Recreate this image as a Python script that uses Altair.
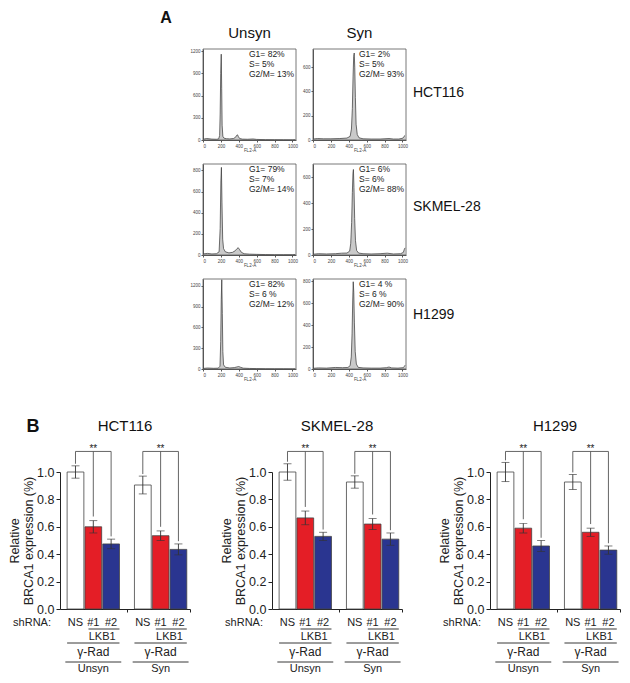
import altair as alt
import pandas as pd

FONT = "Liberation Sans"

# ---------------- Panel A: DNA-content histograms (FL2-A vs events) ----------------
cell_lines = ["HCT116", "SKMEL-28", "H1299"]
conditions = ["Unsyn", "Syn"]

fl2_hct_unsyn = [0, 40, 100, 150, 175, 186, 192, 198, 204, 209, 214, 222, 234, 260, 300, 340, 362, 376, 386, 396, 410, 440, 500, 560, 600, 700, 800, 900, 1000, 1030]
cnt_hct_unsyn = [10, 20, 12, 10, 14, 60, 350, 900, 1160, 700, 200, 50, 25, 18, 15, 20, 35, 62, 70, 45, 20, 12, 10, 14, 8, 5, 4, 3, 2, 4]
fl2_hct_syn = [0, 50, 120, 200, 300, 380, 415, 430, 440, 448, 455, 461, 467, 474, 482, 495, 515, 560, 650, 750, 850, 900, 960, 1005, 1018, 1030]
cnt_hct_syn = [8, 12, 10, 10, 12, 16, 30, 90, 260, 520, 690, 717, 600, 350, 130, 45, 18, 10, 8, 8, 12, 8, 8, 15, 30, 38]

fl2_sk_unsyn = [0, 50, 100, 150, 180, 192, 200, 206, 212, 220, 230, 250, 290, 330, 360, 380, 394, 410, 430, 460, 520, 600, 700, 800, 900, 1000, 1030]
cnt_sk_unsyn = [10, 15, 10, 12, 30, 250, 700, 828, 500, 150, 60, 30, 20, 25, 40, 60, 69, 50, 25, 12, 8, 6, 4, 3, 3, 3, 5]
fl2_sk_syn = [0, 60, 150, 250, 320, 380, 410, 422, 432, 440, 447, 452, 458, 466, 475, 488, 510, 560, 650, 750, 830, 900, 980, 1010, 1022, 1030]
cnt_sk_syn = [6, 10, 8, 10, 14, 15, 30, 90, 250, 480, 630, 658, 520, 280, 110, 35, 15, 10, 8, 10, 14, 8, 10, 20, 45, 55]

fl2_h_unsyn = [0, 50, 120, 170, 190, 198, 204, 210, 216, 222, 230, 250, 300, 350, 380, 400, 420, 450, 520, 600, 700, 800, 900, 1000, 1030]
cnt_h_unsyn = [8, 14, 10, 12, 40, 400, 1000, 1290, 800, 250, 60, 25, 15, 20, 30, 35, 25, 12, 8, 6, 4, 3, 3, 2, 3]
fl2_h_syn = [0, 60, 150, 250, 330, 390, 415, 428, 437, 444, 450, 456, 463, 472, 485, 505, 560, 650, 750, 820, 850, 880, 950, 1010, 1022, 1030]
cnt_h_syn = [6, 10, 8, 14, 12, 14, 30, 110, 320, 620, 795, 700, 420, 160, 45, 15, 10, 8, 8, 12, 18, 10, 8, 12, 25, 35]

stats_hct = ["G1= 82%\nS= 5%\nG2/M= 13%", "G1= 2%\nS= 5%\nG2/M= 93%"]
stats_sk = ["G1= 79%\nS= 7%\nG2/M= 14%", "G1= 6%\nS= 6%\nG2/M= 88%"]
stats_h = ["G1= 82%\nS= 6 %\nG2/M= 12%", "G1= 4 %\nS= 6 %\nG2/M= 90%"]

# ---------------- Panel B: relative BRCA1 expression ----------------
shrna = ["NS", "#1", "#2"]
hct_mean = [1.00, 0.60, 0.475, 0.905, 0.535, 0.435]
hct_err = [0.045, 0.045, 0.035, 0.065, 0.035, 0.04]
sk_mean = [1.00, 0.665, 0.53, 0.927, 0.62, 0.51]
sk_err = [0.06, 0.05, 0.03, 0.045, 0.04, 0.045]
h_mean = [1.00, 0.59, 0.46, 0.927, 0.56, 0.43]
h_err = [0.07, 0.035, 0.04, 0.055, 0.03, 0.03]
sig_label = "**"

# ---------------- layout (plot-area pixels) ----------------
W, H = 614, 667
HX = [(195, 288), (305, 398)]
HY = [(41, 132), (156, 247), (271, 361)]
LABEL_DY = [-2, -3, -9]
BX0 = [52, 264, 482]
BWID = 130
BTOP, BBOT = 464, 601
AX = "#555"
INK = "#222"


def txt(s, x, y, **kw):
    return alt.Chart(pd.DataFrame({"t": [s]})).mark_text(**kw).encode(
        text="t:N", x=alt.value(x), y=alt.value(y))


def hist(fl2, cnt, ymax, yticks, stats, col, row):
    x0, x1 = HX[col]
    ytop, ybot = HY[row]
    df = pd.DataFrame({"fl2": fl2, "count": cnt})
    xs = alt.Scale(domain=[0, 1040], range=[x0, x1], nice=False, zero=False)
    ys = alt.Scale(domain=[0, ymax], range=[ybot, ytop], nice=False, zero=False)
    xa = alt.Axis(orient="bottom", offset=-(H - ybot), values=[0, 200, 400, 600, 800, 1000], format="d",
                  title="FL2-A", labelFontSize=4.5, titleFontSize=4.5, titleFontWeight="normal",
                  tickSize=2, labelPadding=1, titlePadding=0, grid=False, domainColor=AX,
                  tickColor=AX, labelColor="#444", titleColor="#444")
    ya = alt.Axis(orient="left", offset=-x0, values=yticks, format="d", title=None, labelFontSize=4.5,
                  tickSize=2, labelPadding=1, grid=False, domainColor=AX, tickColor=AX, labelColor="#444")
    area = alt.Chart(df).mark_area(color="#b4b4b4", line={"color": "#333", "strokeWidth": 0.7}).encode(
        x=alt.X("fl2:Q", scale=xs, axis=xa), y=alt.Y("count:Q", scale=ys, axis=ya))
    fdf = pd.DataFrame({"fx0": [0], "fx1": [1040], "fy0": [0], "fy1": [ymax]})
    frame = alt.Chart(fdf).mark_rect(fill=None, stroke="#555", strokeWidth=0.8).encode(
        x=alt.X("fx0:Q", scale=xs, axis=xa), x2="fx1:Q",
        y=alt.Y("fy0:Q", scale=ys, axis=ya), y2="fy1:Q")
    st = txt(stats, x0 + 46, ytop + 1, align="left", baseline="top", fontSize=8.5,
             lineBreak="\n", lineHeight=10, color=INK)
    return alt.layer(area, frame, st)


GROUP_STEP = 3.78
BAR_W = 0.94
BR = 1.15
COLORS = ["#ffffff", "#e41e26", "#2a3590"]


def bars(name, mean, err, k):
    x0 = BX0[k]
    rows = []
    for g, cond in enumerate(conditions):
        for s, sh in enumerate(shrna):
            i = g * 3 + s
            left = 0.4 + s + g * GROUP_STEP
            rows.append(dict(cond=cond, shrna=sh, left=left, right=left + BAR_W,
                             c=left + BAR_W / 2, mean=mean[i], lo=mean[i] - err[i], hi=mean[i] + err[i]))
    df = pd.DataFrame(rows)
    xs = alt.Scale(domain=[0, 7.3], range=[x0, x0 + BWID], nice=False, zero=False)
    ys = alt.Scale(domain=[0, 1], range=[BBOT, BTOP], nice=False)
    xa = alt.Axis(orient="bottom", offset=-(H - BBOT),
                  values=[0.4 + 2 + BAR_W + (GROUP_STEP - 2 - BAR_W) / 2, 7.3], labels=False, title=None,
                  tickSize=3, grid=False, domainColor=INK, tickColor=INK)
    ya = alt.Axis(orient="left", offset=-x0, values=[0, 0.2, 0.4, 0.6, 0.8, 1.0], format=".1f",
                  labelFontSize=12.5, tickSize=4, labelPadding=2, grid=False, domainColor=INK,
                  tickColor=INK, labelColor=INK, title=["Relative", "BRCA1 expression (%)"],
                  titleFontSize=12.5, titleFontWeight="normal", titleColor=INK, titlePadding=1,
                  titleLineHeight=14.5)

    def X(f):
        return alt.X(f, scale=xs, axis=xa)

    def Y(f):
        return alt.Y(f, scale=ys, axis=ya)

    bar = alt.Chart(df).mark_bar(stroke="#444", strokeWidth=0.8).encode(
        x=X("left:Q"), x2="right:Q", y=Y("mean:Q"), y2=alt.datum(0),
        fill=alt.Fill("shrna:N", scale=alt.Scale(domain=shrna, range=COLORS), legend=None),
    )
    eb = alt.Chart(df).mark_rule(color="#333", strokeWidth=0.9).encode(x=X("c:Q"), y=Y("lo:Q"), y2="hi:Q")
    cap_lo = alt.Chart(df).mark_tick(orient="horizontal", size=8, thickness=0.9, color="#333").encode(x=X("c:Q"), y=Y("lo:Q"))
    cap_hi = alt.Chart(df).mark_tick(orient="horizontal", size=8, thickness=0.9, color="#333").encode(x=X("c:Q"), y=Y("hi:Q"))

    br = []
    for g in range(2):
        sub = df.iloc[g * 3:g * 3 + 3].reset_index(drop=True)
        c0, c1, c2 = sub.c
        h0, h1, h2 = sub.hi
        br += [dict(x=c0, x2=c0, y=h0 + 0.015, y2=BR),
               dict(x=c0, x2=c2, y=BR, y2=BR),
               dict(x=c1, x2=c1, y=h1 + 0.03, y2=BR),
               dict(x=c2, x2=c2, y=h2 + 0.02, y2=BR)]
    brk = alt.Chart(pd.DataFrame(br)).mark_rule(color="#555", strokeWidth=0.9).encode(
        x=X("x:Q"), x2="x2:Q", y=Y("y:Q"), y2="y2:Q")
    stars = alt.Chart(df[df.shrna == "#1"].assign(t=sig_label, br=BR)).mark_text(
        fontSize=10, baseline="alphabetic", color=INK, dy=1).encode(x=X("c:Q"), y=Y("br:Q"), text="t:N")

    lbl = alt.Chart(df).mark_text(fontSize=11, baseline="middle", color=INK).encode(
        x=X("c:Q"), y=alt.value(BBOT + 14), text="shrna:N")
    grp = df.groupby("cond", sort=False).agg(l0=("left", "min"), r0=("right", "max")).reset_index()
    lk = df[df.shrna != "NS"].groupby("cond", sort=False).agg(
        l1=("left", "min"), r1=("right", "max"), m=("c", "mean")).reset_index()
    grp = grp.merge(lk, on="cond")
    grp["gm"] = (grp.l0 + grp.r0) / 2
    grp["ll"] = grp.l0 - 0.1
    grp["lr"] = grp.r0 + 0.1
    grp["l1s"] = grp.l1 + 0.2
    grp["lkb"] = "LKB1"
    grp["rad"] = "γ-Rad"
    line_lkb = alt.Chart(grp).mark_rule(color=INK, strokeWidth=0.9).encode(x=X("l1s:Q"), x2="r1:Q", y=alt.value(BBOT + 20))
    txt_lkb = alt.Chart(grp).mark_text(fontSize=11, baseline="middle", color=INK).encode(x=X("m:Q"), y=alt.value(BBOT + 28), text="lkb:N")
    line_rad = alt.Chart(grp).mark_rule(color=INK, strokeWidth=0.9).encode(x=X("l0:Q"), x2="r0:Q", y=alt.value(BBOT + 34))
    txt_rad = alt.Chart(grp).mark_text(fontSize=12, baseline="middle", color=INK).encode(x=X("gm:Q"), y=alt.value(BBOT + 43), text="rad:N")
    line_cond = alt.Chart(grp).mark_rule(color=INK, strokeWidth=0.9).encode(x=X("ll:Q"), x2="lr:Q", y=alt.value(BBOT + 53))
    txt_cond = alt.Chart(grp).mark_text(fontSize=11, baseline="middle", color=INK).encode(x=X("gm:Q"), y=alt.value(BBOT + 60), text="cond:N")

    title = txt(name, x0 + BWID / 2, BTOP - 46, fontSize=15, baseline="middle", color="#111")
    sh = txt("shRNA:", x0 - 9, BBOT + 14, fontSize=11, align="right", baseline="middle", color=INK)
    return alt.layer(bar, eb, cap_lo, cap_hi, brk, stars, lbl, line_lkb, txt_lkb, line_rad, txt_rad,
                     line_cond, txt_cond, title, sh)


panels = [
    hist(fl2_hct_unsyn, cnt_hct_unsyn, 1230, [0, 300, 600, 900, 1200], stats_hct[0], 0, 0),
    hist(fl2_hct_syn, cnt_hct_syn, 750, [0, 200, 400, 600], stats_hct[1], 1, 0),
    hist(fl2_sk_unsyn, cnt_sk_unsyn, 860, [0, 200, 400, 600, 800], stats_sk[0], 0, 1),
    hist(fl2_sk_syn, cnt_sk_syn, 700, [0, 200, 400, 600], stats_sk[1], 1, 1),
    hist(fl2_h_unsyn, cnt_h_unsyn, 1300, [0, 300, 600, 900, 1200], stats_h[0], 0, 2),
    hist(fl2_h_syn, cnt_h_syn, 820, [0, 200, 400, 600, 800], stats_h[1], 1, 2),
    bars(cell_lines[0], hct_mean, hct_err, 0),
    bars(cell_lines[1], sk_mean, sk_err, 1),
    bars(cell_lines[2], h_mean, h_err, 2),
]

# headers, row labels and panel letters
annots = [
    txt(conditions[0], (HX[0][0] + HX[0][1]) / 2, HY[0][0] - 16, fontSize=15, baseline="middle", color="#111"),
    txt(conditions[1], (HX[1][0] + HX[1][1]) / 2, HY[0][0] - 16, fontSize=15, baseline="middle", color="#111"),
    txt("A", 158, 10, fontSize=16, fontWeight="bold", baseline="middle", color="#111"),
    txt("B", 25, BTOP - 45, fontSize=18, fontWeight="bold", baseline="middle", color="#111"),
]
for r in range(3):
    annots.append(txt(cell_lines[r], HX[1][1] + 7, (HY[r][0] + HY[r][1]) / 2 + LABEL_DY[r],
                      fontSize=14, align="left", baseline="middle", color="#111"))

chart = alt.layer(*panels, *annots).resolve_scale(x="independent", y="independent").properties(
    width=W, height=H, padding=0, autosize=alt.AutoSizeParams(type="none"), background="white"
).configure_view(stroke=None).configure_text(font=FONT).configure_axis(labelFont=FONT, titleFont=FONT)

chart.save("out.html", embed_options={"renderer": "svg", "actions": False})
